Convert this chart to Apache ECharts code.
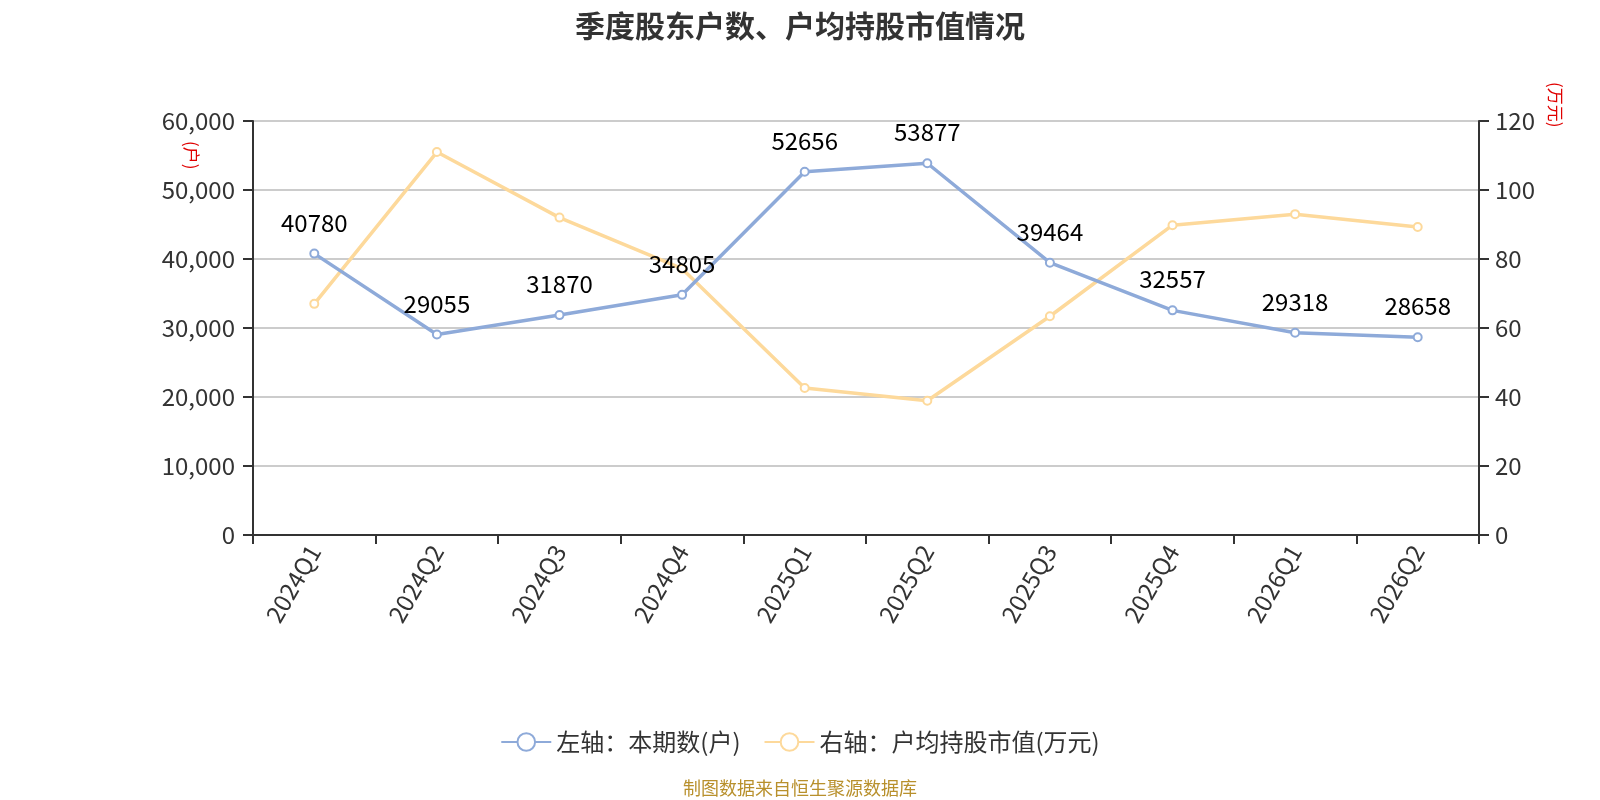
<!DOCTYPE html>
<html>
<head>
<meta charset="utf-8">
<script src="https://cdn.jsdelivr.net/npm/echarts@6/dist/echarts.min.js"></script>
<style>
html,body{margin:0;padding:0;background:#fff;}
#c{width:1600px;height:800px;}
</style>
</head>
<body>
<div id="c"></div>
<script>
const categories = ['2024Q1','2024Q2','2024Q3','2024Q4','2025Q1','2025Q2','2025Q3','2025Q4','2026Q1','2026Q2'];
const holders = [40780, 29055, 31870, 34805, 52656, 53877, 39464, 32557, 29318, 28658];
const avgValue = [67.0, 111.0, 92.0, 77.2, 42.6, 38.9, 63.4, 89.8, 93.0, 89.3];
const leftTicks = {min: 0, max: 60000, interval: 10000};
const rightTicks = {min: 0, max: 120, interval: 20};
const seriesNames = ['左轴：本期数(户)', '右轴：户均持股市值(万元)'];

const font = '"Microsoft YaHei","Noto Sans CJK SC","Noto Sans",sans-serif';
const chart = echarts.init(document.getElementById('c'));
chart.setOption({
  backgroundColor: '#fff',
  textStyle: {fontFamily: font},
  title: {
    text: '季度股东户数、户均持股市值情况',
    left: 'center', top: 6,
    textStyle: {fontSize: 30, fontWeight: 'bold', color: '#333', fontFamily: font}
  },
  legend: {
    top: 725, left: 'center',
    itemWidth: 50, itemHeight: 22, itemGap: 23,
    textStyle: {fontSize: 24, color: '#333', fontFamily: font},
    data: seriesNames
  },
  grid: {left: 253, right: 121, top: 121, bottom: 265, containLabel: false},
  xAxis: {
    type: 'category',
    data: categories,
    boundaryGap: true,
    axisLine: {lineStyle: {color: '#333', width: 2}},
    axisTick: {show: true, length: 9, lineStyle: {color: '#333', width: 2}},
    axisLabel: {rotate: 60, fontSize: 24, color: '#333', margin: 12, fontFamily: font}
  },
  yAxis: [
    {
      type: 'value', min: leftTicks.min, max: leftTicks.max, interval: leftTicks.interval,
      axisLine: {show: true, lineStyle: {color: '#333', width: 2}},
      axisTick: {show: true, length: 10, lineStyle: {color: '#333', width: 2}},
      axisLabel: {fontSize: 24, color: '#333', margin: 18, fontFamily: font,
        formatter: v => v.toLocaleString('en-US')},
      splitLine: {lineStyle: {color: '#cccccc', width: 2}}
    },
    {
      type: 'value', min: rightTicks.min, max: rightTicks.max, interval: rightTicks.interval,
      axisLine: {show: true, lineStyle: {color: '#333', width: 2}},
      axisTick: {show: true, length: 10, lineStyle: {color: '#333', width: 2}},
      axisLabel: {fontSize: 24, color: '#333', margin: 16, fontFamily: font},
      splitLine: {show: false}
    }
  ],
  graphic: [
    {type: 'text', x: 200, y: 141, rotation: -Math.PI / 2,
      style: {text: '(户)', fill: '#e00000', fontSize: 17, fontFamily: font}},
    {type: 'text', x: 1564, y: 82, rotation: -Math.PI / 2,
      style: {text: '(万元)', fill: '#e00000', fontSize: 17, fontFamily: font}},
    {type: 'text', left: 'center', top: 779,
      style: {text: '制图数据来自恒生聚源数据库', fill: '#b8902c', fontSize: 18, fontFamily: font}}
  ],
  series: [
    {
      name: seriesNames[0], type: 'line', yAxisIndex: 0, data: holders,
      symbol: 'emptyCircle', symbolSize: 8,
      lineStyle: {color: '#8eaad9', width: 3.5},
      itemStyle: {color: '#8eaad9', borderWidth: 2},
      label: {show: true, position: 'top', distance: 14, fontSize: 24, color: '#000', fontFamily: font},
      z: 3
    },
    {
      name: seriesNames[1], type: 'line', yAxisIndex: 1, data: avgValue,
      symbol: 'emptyCircle', symbolSize: 8,
      lineStyle: {color: '#fdd99b', width: 3.5},
      itemStyle: {color: '#fdd99b', borderWidth: 2},
      z: 2
    }
  ]
});
</script>
</body>
</html>
